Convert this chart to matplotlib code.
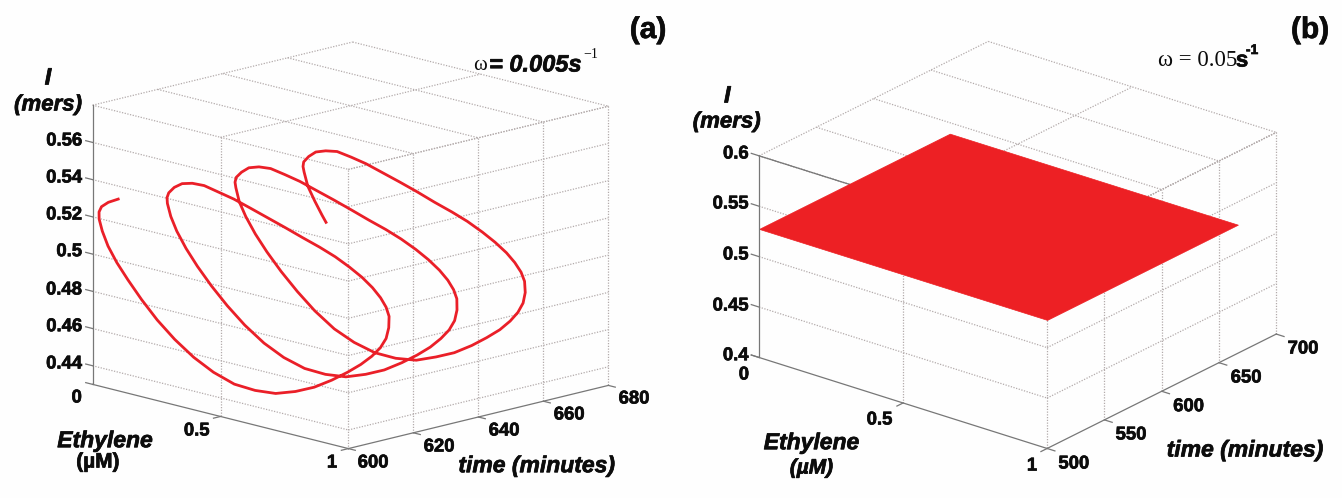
import matplotlib
matplotlib.use("Agg")
import matplotlib.pyplot as plt
import matplotlib.patheffects as pe
import numpy as np
from mpl_toolkits.mplot3d.art3d import Poly3DCollection

W, H = 1342, 498

# ---- panel (a) data, one value per half minute from 600 min ----
time_a = list(np.arange(600, 666.6, 0.5)) + [666.7]
eth_a = [0.100, 0.055, 0.022, 0.006, 0.000, 0.006, 0.022, 0.050, 0.087, 0.134, 0.189, 0.251, 0.319, 0.390,
         0.465, 0.540, 0.614, 0.685, 0.752, 0.814, 0.869, 0.915, 0.952, 0.979, 0.995, 0.999, 0.994, 0.976,
         0.948, 0.910, 0.863, 0.807, 0.745, 0.678, 0.605, 0.531, 0.456, 0.382, 0.311, 0.244, 0.182, 0.129,
         0.083, 0.046, 0.018, 0.005, 0.000, 0.007, 0.024, 0.054, 0.092, 0.140, 0.196, 0.258, 0.327, 0.398,
         0.473, 0.548, 0.622, 0.693, 0.759, 0.821, 0.875, 0.920, 0.955, 0.981, 0.996, 0.999, 0.992, 0.973,
         0.944, 0.905, 0.856, 0.800, 0.736, 0.670, 0.596, 0.523, 0.447, 0.374, 0.302, 0.237, 0.175, 0.123,
         0.077, 0.042, 0.015, 0.004, 0.001, 0.008, 0.027, 0.058, 0.097, 0.146, 0.203, 0.265, 0.335, 0.406,
         0.481, 0.556, 0.630, 0.701, 0.766, 0.828, 0.880, 0.925, 0.959, 0.983, 0.997, 0.999, 0.990, 0.970,
         0.939, 0.900, 0.849, 0.793, 0.728, 0.662, 0.587, 0.515, 0.438, 0.366, 0.294, 0.230, 0.168, 0.117,
         0.072, 0.038, 0.012, 0.003, 0.001, 0.009, 0.030, 0.052, 0.065]
mers_a = [0.5330, 0.5295, 0.5258, 0.5222, 0.5180, 0.5115, 0.5038, 0.4957, 0.4875, 0.4783, 0.4690, 0.4605, 0.4530, 0.4472,
          0.4432, 0.4422, 0.4429, 0.4462, 0.4506, 0.4563, 0.4622, 0.4678, 0.4733, 0.4786, 0.4839, 0.4896, 0.4953, 0.4994,
          0.5033, 0.5072, 0.5109, 0.5143, 0.5175, 0.5201, 0.5225, 0.5251, 0.5276, 0.5300, 0.5322, 0.5335, 0.5346, 0.5338,
          0.5318, 0.5283, 0.5242, 0.5210, 0.5175, 0.5105, 0.5030, 0.4945, 0.4860, 0.4770, 0.4680, 0.4595, 0.4520, 0.4465,
          0.4430, 0.4422, 0.4432, 0.4468, 0.4512, 0.4570, 0.4628, 0.4684, 0.4740, 0.4793, 0.4846, 0.4902, 0.4958, 0.4998,
          0.5037, 0.5075, 0.5112, 0.5146, 0.5178, 0.5204, 0.5228, 0.5254, 0.5280, 0.5303, 0.5325, 0.5337, 0.5346, 0.5335,
          0.5312, 0.5274, 0.5235, 0.5203, 0.5170, 0.5095, 0.5020, 0.4935, 0.4850, 0.4760, 0.4670, 0.4585, 0.4510, 0.4460,
          0.4428, 0.4422, 0.4435, 0.4475, 0.4518, 0.4576, 0.4634, 0.4690, 0.4746, 0.4799, 0.4852, 0.4907, 0.4962, 0.5002,
          0.5041, 0.5078, 0.5115, 0.5148, 0.5181, 0.5206, 0.5231, 0.5258, 0.5284, 0.5306, 0.5328, 0.5339, 0.5346, 0.5330,
          0.5306, 0.5268, 0.5228, 0.5198, 0.5165, 0.5090, 0.5015, 0.4945, 0.4910]

# ---- panel (b) data, the curve fills a flat sheet ----
eth_b = [0, 1, 1, 0]
time_b = [500, 500, 666.5, 666.5]
mers_b = [0.5275, 0.5275, 0.5275, 0.5275]

# ---- axes ----
eth_ticks = [0, 0.5, 1]
time_ticks_a = [600, 620, 640, 660, 680]
mers_ticks_a = [0.44, 0.46, 0.48, 0.50, 0.52, 0.54, 0.56]
mers_lim_a = (0.43, 0.58)
time_ticks_b = [500, 550, 600, 650, 700]
mers_ticks_b = [0.40, 0.45, 0.50, 0.55, 0.60]
mers_lim_b = (0.40, 0.60)

GRID = "#b3abab"
AXIS = "#777777"
RED = "#ed2024"
INK = "#0c0c0c"
FONT = "Liberation Sans"
SERIF = "Liberation Serif"


def make_axes(fig, left, top_bottom, size, aspect, elev, azim):
    ax = fig.add_axes([left / W, 1 - top_bottom / H, size / W, size / H],
                      projection="3d", proj_type="ortho")
    ax.set_box_aspect(aspect)
    ax.view_init(elev=elev, azim=azim)
    ax.set_axis_off()
    ax.set_facecolor("none")
    ax.computed_zorder = False
    return ax


def box_lines(ax, t_ticks, z_ticks, zlim):
    t0, t1 = t_ticks[0], t_ticks[-1]
    z0, z1 = zlim
    ax.set_xlim(0, 1)
    ax.set_ylim(t0, t1)
    ax.set_zlim(z0, z1)

    def dot(x, y, z):
        ax.plot(x, y, z, color=GRID, lw=0.9, ls=(0, (1, 1.2)), zorder=1)

    def solid(x, y, z):
        ax.plot(x, y, z, color=AXIS, lw=0.9, zorder=4)

    # walls at t0 and eth=1, and the ceiling
    for z in z_ticks + [z1]:
        if z != z0:
            dot([0, 1], [t0, t0], [z, z])
            dot([1, 1], [t0, t1], [z, z])
    for e in eth_ticks[1:]:
        dot([e, e], [t0, t0], [z0, z1])
        dot([e, e], [t0, t1], [z1, z1])
    dot([0, 0], [t0, t1], [z1, z1])
    for t in t_ticks[1:]:
        dot([1, 1], [t, t], [z0, z1])
        dot([0, 1], [t, t], [z1, z1])

    # axis lines and small ticks
    solid([0, 0], [t0, t0], [z0, z1])
    solid([0, 1], [t0, t0], [z0, z0])
    solid([1, 1], [t0, t1], [z0, z0])
    dt = (t1 - t0) * 0.027
    for z in z_ticks + [z0]:
        solid([-0.027, 0], [t0, t0], [z, z])
    for e in eth_ticks[1:]:
        solid([e, e], [t0 - dt, t0], [z0, z0])
    for t in t_ticks:
        solid([1, 1.027], [t, t], [z0, z0])


fig = plt.figure(figsize=(W / 100, H / 100), dpi=100, facecolor="#fefefe")


def put(x, y, s, size=13.3, style="normal", weight="bold", family=FONT, ha="center"):
    t = fig.text(x / W, 1 - y / H, s, fontsize=size, fontstyle=style, fontweight=weight,
                 family=family, ha=ha, va="center", color=INK, zorder=10)
    if weight == "bold":
        # the scanned labels are heavier than plain bold
        t.set_path_effects([pe.withStroke(linewidth=0.5, foreground=INK)])


# ---- panel (a) ----
ax_a = make_axes(fig, 56, 539.8, 573.5, (1, 1, 0.79), 14.3, -44.53)
box_lines(ax_a, time_ticks_a, mers_ticks_a, mers_lim_a)
ax_a.plot(eth_a, time_a, mers_a, color="#ea1f28", lw=2.0, zorder=3)

put(648, 30, "(a)", size=21.5)
put(48, 78, "I", size=17, style="italic")
put(48, 105, "(mers)", size=16, style="italic")
put(480, 65, "\u03c9", size=15, weight="normal", family=SERIF)
put(489, 65, "= 0.005s", size=17, style="italic", ha="left")
put(591, 55, "\u22121", size=10, weight="normal", family=SERIF)

z_labels_a = ["0.44", "0.46", "0.48", "0.5", "0.52", "0.54", "0.56"]
z_ys_a = [364, 326.7, 290, 251.7, 215, 178, 141]
for label, y in zip(z_labels_a, z_ys_a):
    put(82, y, label, ha="right")
put(76.7, 398, "0")
put(196.7, 431, "0.5")
put(332, 463, "1")
t_xs_a = [373, 439, 504, 569, 634]
t_ys_a = [463, 447, 431, 415, 399]
for tick, x, y in zip(time_ticks_a, t_xs_a, t_ys_a):
    put(x, y, str(tick))
put(105, 440.7, "Ethylene", size=16.5, style="italic")
put(98, 462, "(\u00b5M)", size=15)
put(536.7, 465.7, "time (minutes)", size=16.5, style="italic")

# ---- panel (b) ----
ax_b = make_axes(fig, 736, 526.6, 548.5, (1, 1, 0.597), 23.4, -51.5)
box_lines(ax_b, time_ticks_b, mers_ticks_b, mers_lim_b)
ax_b.plot([0, 0.32], [500, 500], [0.6, 0.6], color=AXIS, lw=0.9, zorder=2)
sheet = Poly3DCollection([list(zip(eth_b, time_b, mers_b))], facecolor=RED, edgecolor=RED,
                         linewidth=0.5, zorder=3)
ax_b.add_collection3d(sheet)

put(1310, 30, "(b)", size=21.5)
put(727.3, 96, "I", size=17, style="italic")
put(726.7, 122, "(mers)", size=16, style="italic")
put(1198, 60, "\u03c9 = 0.05", size=16.5, weight="normal", family=SERIF)
put(1242, 61, "s", size=16)
put(1252, 50, "-1", size=10)

z_labels_b = ["0.4", "0.45", "0.5", "0.55", "0.6"]
z_ys_b = [355.7, 306, 255, 204, 154]
for label, y in zip(z_labels_b, z_ys_b):
    put(748.5, y, label, ha="right")
put(743.9, 375, "0")
put(879.5, 420, "0.5")
put(1032, 466, "1")
t_xs_b = [1073.8, 1131, 1188.5, 1246, 1303]
t_ys_b = [464, 435, 406.7, 378, 349]
for tick, x, y in zip(time_ticks_b, t_xs_b, t_ys_b):
    put(x, y, str(tick))
put(811.5, 442.7, "Ethylene", size=16.5, style="italic")
put(811.5, 468, "(\u00b5M)", size=15, style="italic")
put(1245, 450, "time (minutes)", size=16.5, style="italic")

fig.savefig("out.png", dpi=100, facecolor=fig.get_facecolor())
